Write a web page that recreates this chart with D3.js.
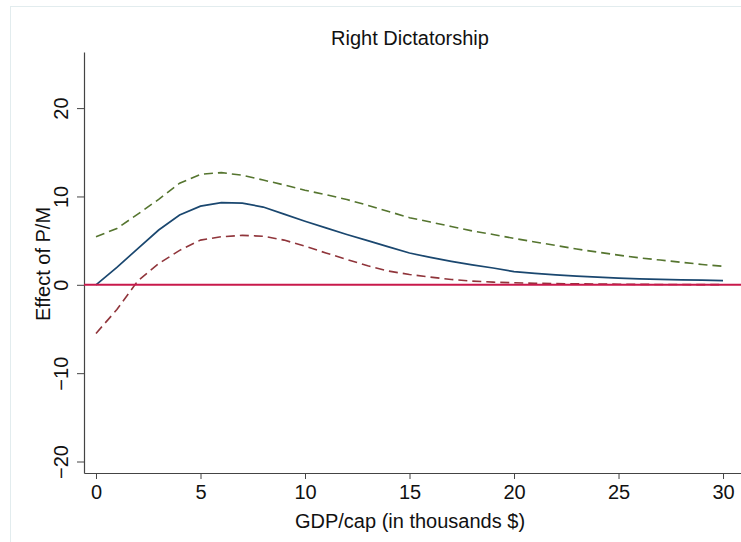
<!DOCTYPE html>
<html>
<head>
<meta charset="utf-8">
<script src="https://cdn.jsdelivr.net/npm/d3@7/dist/d3.min.js"></script>
<style>
  html, body { margin: 0; padding: 0; background: #fff; }
  svg { display: block; font-family: "Liberation Sans", Arial, sans-serif; }
</style>
</head>
<body>
<svg id="chart" width="741" height="542"></svg>
<script>
// GDP per capita (thousands $)
const gdp = d3.range(0, 31);
// Marginal effect of P/M and its confidence bounds
const effect = [0, 1.97, 4.1, 6.2, 7.9, 8.9, 9.3, 9.25, 8.8, 8.0, 7.2, 6.45, 5.7, 5.0, 4.3, 3.6, 3.1, 2.65, 2.25, 1.9, 1.5, 1.3, 1.12, 0.98, 0.86, 0.75, 0.68, 0.62, 0.56, 0.52, 0.48];
const upper = [5.44, 6.38, 8.0, 9.67, 11.5, 12.5, 12.7, 12.4, 11.86, 11.3, 10.7, 10.2, 9.65, 9.0, 8.3, 7.6, 7.1, 6.6, 6.1, 5.7, 5.25, 4.85, 4.45, 4.05, 3.7, 3.36, 3.05, 2.8, 2.55, 2.3, 2.1];
const lower = [-5.5, -2.8, 0.45, 2.4, 3.9, 5.06, 5.44, 5.6, 5.5, 5.06, 4.38, 3.6, 2.87, 2.15, 1.55, 1.17, 0.87, 0.6, 0.42, 0.3, 0.23, 0.18, 0.14, 0.11, 0.09, 0.07, 0.05, 0.04, 0.03, 0.02, 0.02];
const xTicks = [0, 5, 10, 15, 20, 25, 30];
const yTicks = [-20, -10, 0, 10, 20];

const svg = d3.select("#chart");

// outer graph region border
svg.append("rect")
  .attr("x", 10.5).attr("y", 6.5)
  .attr("width", 760).attr("height", 560)
  .attr("fill", "#fff")
  .attr("stroke", "#e2ecee")
  .attr("stroke-width", 1);

const x = d3.scaleLinear().domain([-0.574, 30.86]).range([84, 741]);
const y = d3.scaleLinear().domain([-21.3, 26.35]).range([473, 52]);

// y axis
const yAxis = svg.append("g")
  .attr("transform", "translate(84,0)")
  .call(d3.axisLeft(y).tickValues(yTicks).tickSize(7).tickSizeOuter(0).tickPadding(0)
    .tickFormat(d => d < 0 ? "\u2212" + Math.abs(d) : d));
yAxis.select(".domain").attr("stroke", "#444").attr("stroke-width", 1.2);
yAxis.selectAll(".tick line").attr("stroke", "#444");
yAxis.selectAll(".tick text")
  .attr("font-size", 20).attr("fill", "#111")
  .attr("text-anchor", "middle")
  .attr("x", 0).attr("dy", 0)
  .attr("transform", "translate(-23,0) rotate(-90)")
  .attr("dominant-baseline", "central");

// x axis
const xAxis = svg.append("g")
  .attr("transform", "translate(0,473)")
  .call(d3.axisBottom(x).tickValues(xTicks).tickSize(6).tickSizeOuter(0).tickPadding(6));
xAxis.select(".domain").attr("stroke", "#444").attr("stroke-width", 1.2);
xAxis.selectAll(".tick line").attr("stroke", "#444");
xAxis.selectAll(".tick text").attr("font-size", 20).attr("fill", "#111");

// titles
svg.append("text")
  .attr("x", 410).attr("y", 45)
  .attr("text-anchor", "middle")
  .attr("font-size", 20).attr("fill", "#111")
  .text("Right Dictatorship");

svg.append("text")
  .attr("x", 410).attr("y", 528)
  .attr("text-anchor", "middle")
  .attr("font-size", 20).attr("fill", "#111")
  .text("GDP/cap (in thousands $)");

svg.append("text")
  .attr("transform", "translate(50,264) rotate(-90)")
  .attr("text-anchor", "middle")
  .attr("font-size", 20).attr("fill", "#111")
  .text("Effect of P/M");

// curves
const line = vals => d3.line()
  .x((d, i) => x(gdp[i]))
  .y(d => y(d))(vals);

svg.append("path").attr("d", line(upper))
  .attr("fill", "none").attr("stroke", "#55752f")
  .attr("stroke-width", 1.6).attr("stroke-dasharray", "9,5");

svg.append("path").attr("d", line(lower))
  .attr("fill", "none").attr("stroke", "#90353b")
  .attr("stroke-width", 1.6).attr("stroke-dasharray", "9,5");

svg.append("path").attr("d", line(effect))
  .attr("fill", "none").attr("stroke", "#1a476f")
  .attr("stroke-width", 1.7);

// zero reference line
svg.append("line")
  .attr("x1", 84).attr("x2", 741)
  .attr("y1", y(0)).attr("y2", y(0))
  .attr("stroke", "#c8194b").attr("stroke-width", 2);
</script>
</body>
</html>
